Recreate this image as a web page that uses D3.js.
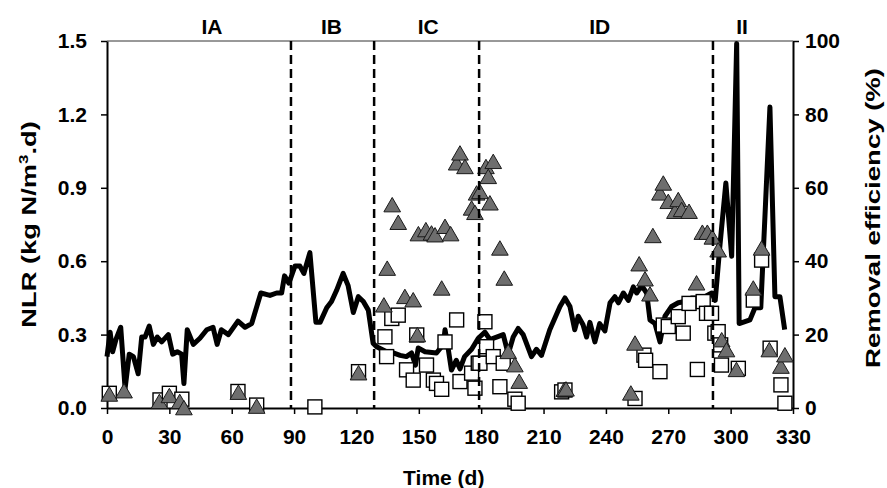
<!DOCTYPE html>
<html>
<head>
<meta charset="utf-8">
<script src="https://cdnjs.cloudflare.com/ajax/libs/d3/7.8.5/d3.min.js"></script>
<style>
  body { margin: 0; background: #fff; }
  svg text { font-family: "Liberation Sans", Arial, sans-serif; font-weight: bold; fill: #000; }
</style>
</head>
<body>
<div id="chart"></div>
<script>
// NLR (black line), kg N/m3.d
const lineDays = [0, 1.5, 2.7, 4.3, 6.6, 8.7, 10.7, 12.7, 15, 16.7, 18.3, 20.3, 22.3, 24.2, 26.3, 29.5, 31.6, 33.8, 35.9, 37,
  38.6, 41.5, 44.7, 48, 51, 53, 55, 58.4, 63, 66.4, 69.6, 74, 78.4, 81.6, 84, 85.4, 87.5, 90.4, 92.8, 94.7,
  97.6, 100.5, 102.5, 105.7, 108, 110.4, 113.6, 116, 118.5, 120.9, 123.3, 125.7, 128, 129.7, 134.5, 137.7, 141, 144, 146.5, 148.4,
  149.7, 153, 158.5, 161.8, 162.6, 164, 165.7, 168, 169.8, 172, 175.4, 178.6, 181.8, 184.2, 187.4, 190.6, 193, 195.4, 197.8, 200.2,
  204.2, 206.6, 209, 213, 217.9, 220.3, 222.7, 225, 226.7, 229, 230.7, 232.3, 234.7, 237, 239.5, 242, 244.3, 246, 248.4, 250.8,
  253.2, 254.8, 257.2, 259.6, 261.2, 263.6, 266, 268.4, 271.6, 274.8, 278, 281.2, 284.4, 287.6, 290.9, 292.6, 294.8, 297.7, 300.5, 302.9,
  304.1, 309.3, 311.7, 314.5, 318.9, 321.3, 323.7, 326];
const lineNlr = [0.21, 0.31, 0.23, 0.28, 0.33, 0.08, 0.22, 0.21, 0.14, 0.29, 0.29, 0.335, 0.26, 0.29, 0.27, 0.30, 0.22, 0.23, 0.22, 0.10,
  0.32, 0.26, 0.285, 0.32, 0.33, 0.26, 0.32, 0.30, 0.355, 0.33, 0.345, 0.47, 0.46, 0.47, 0.47, 0.54, 0.51, 0.58, 0.58, 0.55,
  0.635, 0.35, 0.35, 0.41, 0.435, 0.48, 0.55, 0.50, 0.39, 0.455, 0.435, 0.40, 0.265, 0.25, 0.23, 0.225, 0.215, 0.21, 0.225, 0.175,
  0.245, 0.23, 0.225, 0.26, 0.32, 0.25, 0.155, 0.195, 0.16, 0.21, 0.24, 0.285, 0.31, 0.28, 0.29, 0.30, 0.22, 0.29, 0.325, 0.30,
  0.21, 0.24, 0.215, 0.32, 0.415, 0.45, 0.415, 0.32, 0.375, 0.34, 0.29, 0.35, 0.27, 0.345, 0.315, 0.43, 0.455, 0.43, 0.47, 0.44,
  0.495, 0.47, 0.50, 0.47, 0.36, 0.345, 0.27, 0.375, 0.415, 0.43, 0.435, 0.45, 0.45, 0.455, 0.47, 0.44, 0.66, 0.92, 0.62, 1.49,
  0.345, 0.36, 0.41, 0.41, 1.23, 0.455, 0.455, 0.32];

// grey triangles, removal efficiency (%)
const triDays = [1.1, 8.2, 25.2, 30, 35, 37, 63.2, 72, 121,
  133.2, 134.8, 137.2, 140.1, 143.3, 147.3, 149.3, 149.8, 153.4, 156.1, 157.8, 161, 162.6, 165.3, 168.2, 169.8, 172.2, 175.4, 177, 177.8,
  179.4, 182.3, 183.4, 184.2, 185.8, 189, 191.1, 193, 196.2, 198.3, 220, 220.8, 252, 254, 256, 258.8, 261.2, 262.6, 266, 267.6,
  270, 273.2, 274.8, 276.4, 280, 283.6, 286.4, 288.8, 291.2,
  294, 295.7, 298, 302.8, 310.9, 314.9, 318.6, 324.2, 326.1];
const triEff = [3.7, 4.6, 1.7, 3.3, 1.7, 0, 4.2, 0.4, 9.5,
  28, 38, 55.3, 50.5, 30.3, 29.4, 19.9, 47.4, 48.5, 47.6, 47.1, 32.6, 49.4, 47.4, 66.7, 69.4, 65.7, 54.4, 53.2, 58.5,
  58.9, 65.7, 63, 55.8, 67.1, 43.5, 35.3, 15.3, 11.7, 7.2, 5, 5.1, 4, 17.6, 39.2, 35.1, 31, 46.9, 58.5, 61.2,
  56.2, 53.5, 56.7, 54, 53.5, 34, 47.8, 47.8, 46.5,
  43, 18.5, 15.8, 10.4, 32.6, 43.5, 15.8, 11.3, 14.4];

// white squares, removal efficiency (%)
const sqDays = [1.1, 25.5, 30, 36, 63, 72, 100, 121,
  133.7, 134.5, 137, 140.1, 144.1, 147.3, 149, 153.7, 157, 158.5, 161, 162.6, 168.2, 169.8, 175.4, 177, 178.6,
  179.4, 181.8, 182.6, 185.8, 189, 190.6, 196.2, 197.8, 218.7, 220.3, 254, 258.3, 259.1, 266, 267.6, 270, 274.8, 277.2,
  280, 284, 286.8, 288.4, 290.8,
  292.4, 294, 295.2, 295.6, 303.7, 310.9, 314.9, 319, 324.2, 326.1];
const sqEff = [4.0, 2.2, 4.0, 2.4, 4.5, 0.8, 0.3, 9.9,
  19.4, 14, 24.4, 25.3, 10.4, 7.6, 19.9, 11.7, 7.6, 6.7, 5.1, 18, 24, 7.2, 9.5, 5.4, 12.2,
  12.2, 23.5, 16.7, 14, 5.8, 12.2, 2.4, 1.3, 4.4, 4.9, 2.6, 14.4, 13, 9.9, 22.6, 22.2, 24.9, 20.4,
  28.5, 10.5, 29, 25.8, 25.8,
  20.4, 20.8, 17.2, 11.7, 10.8, 29.4, 40.3, 16.3, 6.3, 1.3];

const phaseNames = ['IA', 'IB', 'IC', 'ID', 'II'];
const phaseCentres = [50.5, 108, 154.5, 237, 305.5];
const phaseBounds = [88.5, 128.5, 179, 291.5];

const xTicks = d3.range(0, 331, 30);
const yLeftTicks = [0, 0.3, 0.6, 0.9, 1.2, 1.5];
const yRightTicks = [0, 20, 40, 60, 80, 100];

const width = 887, height = 488;
const margin = {top: 41, right: 94, bottom: 80, left: 107};
const innerW = width - margin.left - margin.right;
const innerH = height - margin.top - margin.bottom;
const fontSize = 21;

const svg = d3.select('#chart').append('svg')
  .attr('width', width)
  .attr('height', height);

const g = svg.append('g').attr('transform', `translate(${margin.left},${margin.top})`);

const x = d3.scaleLinear().domain([0, 330]).range([0, innerW]);
const yL = d3.scaleLinear().domain([0, 1.5]).range([innerH, 0]);
const yR = d3.scaleLinear().domain([0, 100]).range([innerH, 0]);

// top frame line
g.append('line')
  .attr('x1', 0).attr('x2', innerW)
  .attr('y1', 0).attr('y2', 0)
  .attr('stroke', '#333').attr('stroke-width', 1);

// axes
const xAxis = g.append('g')
  .attr('transform', `translate(0,${innerH})`)
  .call(d3.axisBottom(x).tickValues(xTicks).tickSize(6).tickSizeOuter(0).tickPadding(15));

const leftAxis = g.append('g')
  .call(d3.axisLeft(yL).tickValues(yLeftTicks).tickFormat(d3.format('.1f')).tickSize(6).tickSizeOuter(0).tickPadding(14));

const rightAxis = g.append('g')
  .attr('transform', `translate(${innerW},0)`)
  .call(d3.axisRight(yR).tickValues(yRightTicks).tickSize(6).tickSizeOuter(0).tickPadding(6));

[xAxis, leftAxis, rightAxis].forEach(a => {
  a.select('.domain').attr('stroke', '#000').attr('stroke-width', 2);
  a.selectAll('.tick line').attr('stroke', '#000').attr('stroke-width', 1.5);
  a.selectAll('.tick text').attr('font-size', fontSize).attr('font-family', '"Liberation Sans", Arial, sans-serif');
});

// NLR line
const line = d3.line()
  .x(i => x(lineDays[i]))
  .y(i => yL(lineNlr[i]));

g.append('path')
  .datum(d3.range(lineDays.length))
  .attr('fill', 'none')
  .attr('stroke', '#000')
  .attr('stroke-width', 5)
  .attr('stroke-linejoin', 'round')
  .attr('d', line);

// squares
g.selectAll('.sq')
  .data(d3.range(sqDays.length))
  .enter().append('rect')
  .attr('class', 'sq')
  .attr('x', i => x(sqDays[i]) - 7)
  .attr('y', i => yR(sqEff[i]) - 7)
  .attr('width', 14)
  .attr('height', 14)
  .attr('fill', '#fff')
  .attr('stroke', '#000')
  .attr('stroke-width', 1.4);

// triangles
const tri = d3.symbol().type(d3.symbolTriangle).size(120);
g.selectAll('.tri')
  .data(d3.range(triDays.length))
  .enter().append('path')
  .attr('class', 'tri')
  .attr('transform', i => `translate(${x(triDays[i])},${yR(triEff[i]) + 2})`)
  .attr('d', tri)
  .attr('fill', '#6e6e6e')
  .attr('stroke', '#1a1a1a')
  .attr('stroke-width', 1);

// phase boundaries
g.selectAll('.phase')
  .data(phaseBounds)
  .enter().append('line')
  .attr('class', 'phase')
  .attr('x1', d => x(d)).attr('x2', d => x(d))
  .attr('y1', 0).attr('y2', innerH)
  .attr('stroke', '#000')
  .attr('stroke-width', 2.5)
  .attr('stroke-dasharray', '9,5');

// phase labels
g.selectAll('.phase-label')
  .data(phaseNames)
  .enter().append('text')
  .attr('class', 'phase-label')
  .attr('x', (d, i) => x(phaseCentres[i]))
  .attr('y', -7)
  .attr('text-anchor', 'middle')
  .attr('font-size', fontSize)
  .text(d => d);

// axis titles
svg.append('text')
  .attr('x', margin.left + x(162))
  .attr('y', 485)
  .attr('text-anchor', 'middle')
  .attr('font-size', fontSize)
  .text('Time (d)');

const leftTitle = svg.append('text')
  .attr('transform', `translate(36,${margin.top + innerH / 2}) rotate(-90) scale(1.3,1)`)
  .attr('text-anchor', 'middle')
  .attr('font-size', fontSize);
leftTitle.append('tspan').text('NLR (kg N/m');
leftTitle.append('tspan').attr('dy', -8).attr('font-size', 13).text('3');
leftTitle.append('tspan').attr('dy', 8).text('.d)');

svg.append('text')
  .attr('transform', `translate(880,218) rotate(-90)`)
  .attr('text-anchor', 'middle')
  .attr('font-size', fontSize)
  .attr('textLength', 300)
  .attr('lengthAdjust', 'spacingAndGlyphs')
  .text('Removal efficiency (%)');
</script>
</body>
</html>
